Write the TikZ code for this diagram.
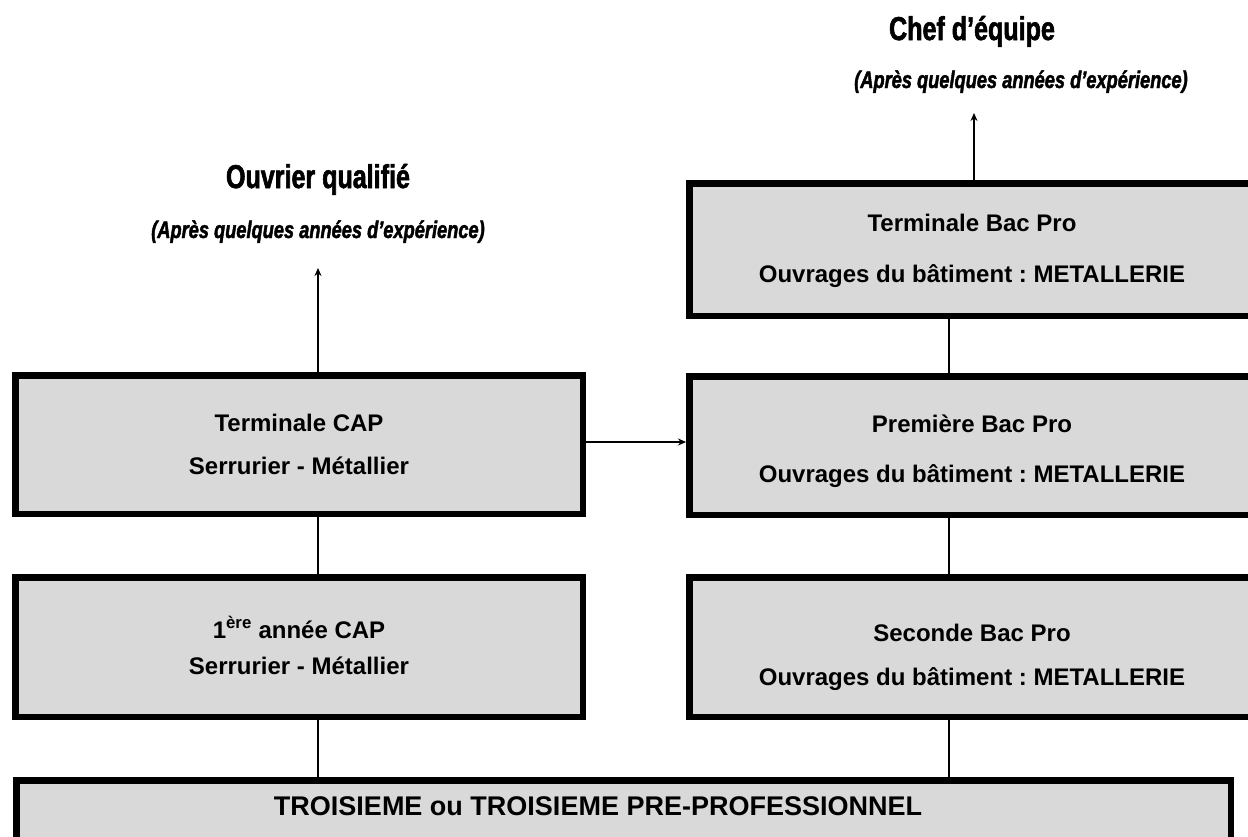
\documentclass[tikz,border=0pt]{standalone}
\usepackage{fontspec}
\setmainfont{Liberation Sans}
\newfontfamily\impactfont{Liberation Sans}[BoldFeatures={FakeStretch=0.76,FakeBold=1.8},BoldItalicFeatures={FakeStretch=0.76,FakeBold=1.8}]
\usetikzlibrary{arrows.meta}
\definecolor{boxgray}{HTML}{D9D9D9}
\frenchspacing
\tikzset{
  box/.style={draw=black, line width=6.5pt, fill=boxgray, inner sep=0pt, anchor=center},
  titletext/.style={font=\fontsize{24}{28}\selectfont\bfseries, anchor=base, inner sep=0pt},
  subtext/.style={font=\fontsize{24}{28}\selectfont\bfseries, anchor=base, inner sep=0pt},
  bigtext/.style={font=\fontsize{27}{30}\selectfont\bfseries, anchor=base, inner sep=0pt},
  headtext/.style={font=\impactfont\fontsize{33}{36}\selectfont\bfseries, anchor=base, inner sep=0pt},
  headsub/.style={font=\impactfont\fontsize{24}{28}\selectfont\bfseries\itshape, anchor=base, inner sep=0pt},
  conn/.style={line width=1.3pt},
  arr/.style={line width=1.3pt, -{Stealth[length=8pt,width=7pt]}}
}
\begin{document}
\begin{tikzpicture}[x=1pt,y=-1pt]
\useasboundingbox (0,0) rectangle (1248,836);
% boxes
\node[box, minimum width=567.5pt, minimum height=138.5pt] (tcap) at (299,444.5) {};
\node[box, minimum width=567.5pt, minimum height=139.5pt] (pcap) at (299,647) {};
\node[box, minimum width=569.5pt, minimum height=132.5pt] (tbac) at (974,249.5) {};
\node[box, minimum width=569.5pt, minimum height=138.5pt] (pbac) at (974,445.5) {};
\node[box, minimum width=569.5pt, minimum height=139.5pt] (sbac) at (974,647) {};
\node[box, minimum width=1214.5pt, minimum height=116.5pt] (troi) at (623.5,838.5) {};
% box texts
\node[titletext] (tcapA) at (299,431) {Terminale CAP};
\node[subtext] (tcapB) at (299,474) {Serrurier - Métallier};
\node[titletext] (pcapA) at (299,638) {1\textsuperscript{ère} année CAP};
\node[subtext] (pcapB) at (299,674) {Serrurier - Métallier};
\node[titletext] (tbacA) at (972,231) {Terminale Bac Pro};
\node[subtext] (tbacB) at (972,282) {Ouvrages du bâtiment : METALLERIE};
\node[titletext] (pbacA) at (972,432) {Première Bac Pro};
\node[subtext] (pbacB) at (972,482) {Ouvrages du bâtiment : METALLERIE};
\node[titletext] (sbacA) at (972,641) {Seconde Bac Pro};
\node[subtext] (sbacB) at (972,685) {Ouvrages du bâtiment : METALLERIE};
\node[bigtext] (troiA) at (598,815) {TROISIEME ou TROISIEME PRE-PROFESSIONNEL};
% headings
\node[headtext] (chef) at (972,40) {Chef d’équipe};
\node[headsub] (chefsub) at (1021,88) {(Après quelques années d’expérience)};
\node[headtext] (ouv) at (318,188) {Ouvrier qualifié};
\node[headsub] (ouvsub) at (318,238) {(Après quelques années d’expérience)};
% connector coordinates
\coordinate (lx) at (318,0);
\coordinate (rx) at (949,0);
\coordinate (tx) at (974,0);
\coordinate (hy) at (0,442);
\coordinate (ouvtip) at (318,268);
\coordinate (cheftip) at (974,113);
% connectors
\draw[arr] (tcap.north -| lx) -- (ouvtip);
\draw[arr] (tbac.north -| tx) -- (cheftip);
\draw[arr] (tcap.east |- hy) -- (pbac.west |- hy);
\draw[conn] (tcap.south -| lx) -- (pcap.north -| lx);
\draw[conn] (pcap.south -| lx) -- (troi.north -| lx);
\draw[conn] (tbac.south -| rx) -- (pbac.north -| rx);
\draw[conn] (pbac.south -| rx) -- (sbac.north -| rx);
\draw[conn] (sbac.south -| rx) -- (troi.north -| rx);
\end{tikzpicture}
\end{document}
